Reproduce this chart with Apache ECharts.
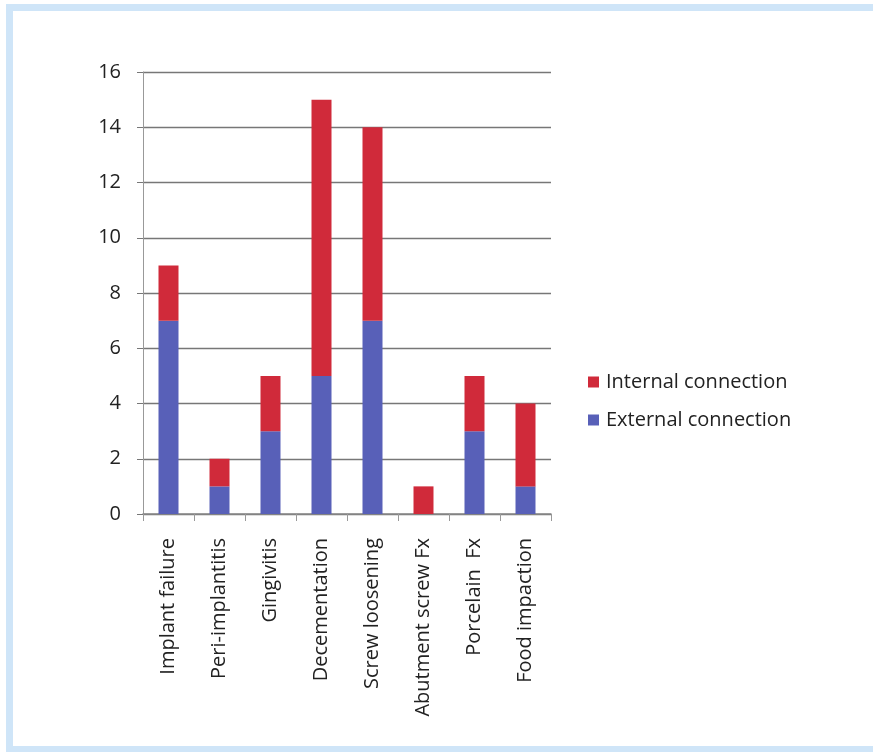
<!DOCTYPE html>
<html><head><meta charset="utf-8">
<script src="https://cdn.jsdelivr.net/npm/echarts@6/dist/echarts.min.js"></script>
<style>html,body{margin:0;padding:0;background:#fff}#c{width:873px;height:752px}</style>
</head><body><div id="c"></div>
<script>
const categories = ['Implant failure','Peri-implantitis','Gingivitis','Decementation','Screw loosening','Abutment screw Fx','Porcelain  Fx','Food impaction'];
const externalValues = [7,1,3,5,7,0,3,1];
const internalValues = [2,1,2,10,7,1,2,3];
const yTicks = {min:0,max:16,interval:2};

const chart = echarts.init(document.getElementById('c'));
const font = '"Open Sans", "Noto Sans", sans-serif';
chart.setOption({
  animation:false,
  textStyle:{fontFamily:font},
  graphic:[{type:'rect',shape:{x:9.5,y:7.5,width:900,height:742},style:{fill:'none',stroke:'#cfe5f8',lineWidth:7}}],
  grid:{left:143,right:322,top:72,bottom:238},
  legend:{orient:'vertical',left:583,top:367,itemWidth:11,itemHeight:11,itemGap:18,icon:'rect',
    data:['Internal connection','External connection'],
    textStyle:{fontSize:20,color:'#222',fontFamily:font,padding:[0,0,0,2]}},
  xAxis:{type:'category',data:categories,
    axisLine:{lineStyle:{color:'#888',width:1.5}},
    axisTick:{show:true,length:7,lineStyle:{color:'#999'}},
    axisLabel:{rotate:90,fontSize:20,color:'#222',margin:24,interval:0,fontFamily:font}},
  yAxis:{type:'value',min:yTicks.min,max:yTicks.max,interval:yTicks.interval,
    axisLine:{show:true,lineStyle:{color:'#999'}},
    axisTick:{show:true,length:6,lineStyle:{color:'#777'}},
    axisLabel:{fontSize:20,color:'#222',margin:22,fontFamily:font},
    splitLine:{lineStyle:{color:'#777',width:1.3}}},
  series:[
    {name:'External connection',type:'bar',stack:'t',data:externalValues,barWidth:20,itemStyle:{color:'#5860b8'}},
    {name:'Internal connection',type:'bar',stack:'t',data:internalValues,barWidth:20,itemStyle:{color:'#d02a3a'}}
  ]
});
</script></body></html>
